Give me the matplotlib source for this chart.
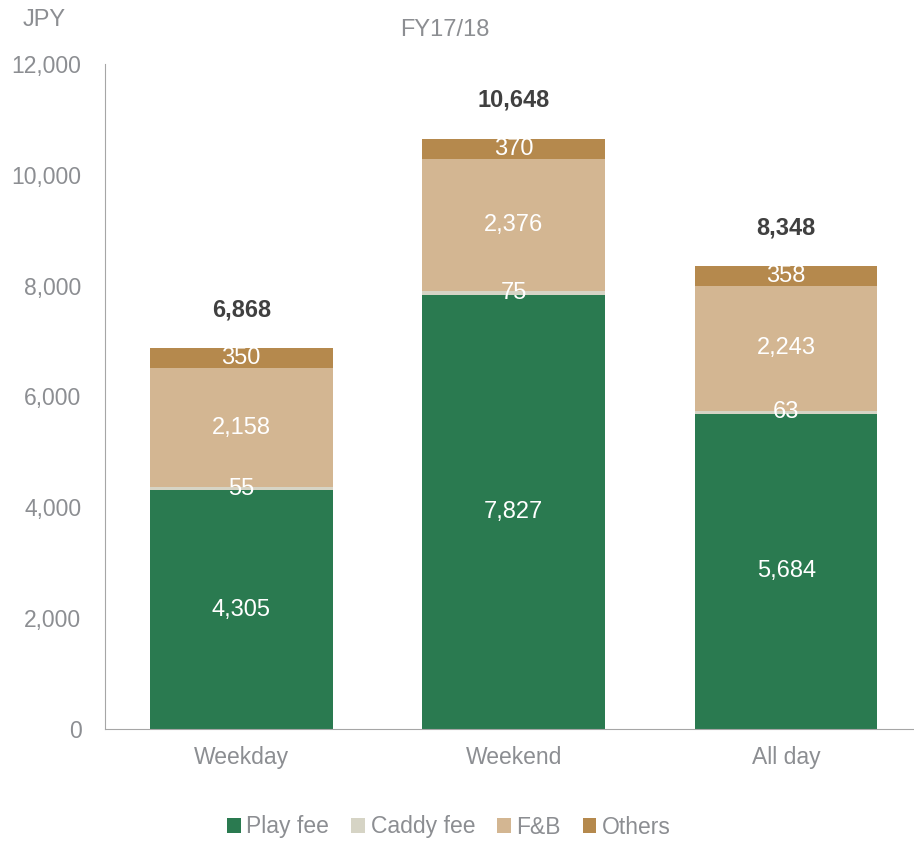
import numpy as np
import matplotlib.pyplot as plt

plt.rcParams['font.family'] = ['Liberation Sans', 'DejaVu Sans']

categories = ["Weekday", "Weekend", "All day"]
play_fee = [4305, 7827, 5684]
caddy_fee = [55, 75, 63]
fnb = [2158, 2376, 2243]
others = [350, 370, 358]

series = [("Play fee", play_fee, "#2a7a50"),
          ("Caddy fee", caddy_fee, "#d6d4c5"),
          ("F&B", fnb, "#d3b692"),
          ("Others", others, "#b5894d")]

grey = "#8c8e92"

fig = plt.figure(figsize=(9.14, 8.41), dpi=100)
ax = fig.add_axes([0.1149, 0.1332, 0.8851, 0.7907])

x = np.arange(len(categories))
bottom = np.zeros(len(categories))
for name, vals, color in series:
    vals = np.array(vals, dtype=float)
    ax.bar(x, vals, 0.67, bottom=bottom, color=color, label=name)
    for xi, b, v in zip(x, bottom, vals):
        ax.text(xi, b + v / 2, f"{int(v):,}", ha="center", va="center",
                color="white", fontsize=17)
    bottom += vals

# totals above each stack
for xi, t in zip(x, bottom):
    ax.text(xi, t + 700, f"{int(t):,}", ha="center", va="center",
            color="#404040", fontsize=17, fontweight="bold")

ax.set_xlim(-0.5, 2.469)
ax.set_ylim(0, 12000)
ax.set_yticks(np.arange(0, 12001, 2000))
ax.set_yticklabels([f"{v:,}" for v in range(0, 12001, 2000)])
ax.set_xticks(x)
ax.set_xticklabels(categories)
ax.tick_params(length=0, labelsize=16.5, colors=grey)
ax.tick_params(axis="y", pad=17)
ax.tick_params(axis="x", pad=12)
for s in ["top", "right"]:
    ax.spines[s].set_visible(False)
for s in ["left", "bottom"]:
    ax.spines[s].set_color("#a6a6a6")

fig.text(44 / 914, 1 - 20 / 841, "JPY", ha="center", va="center",
         color=grey, fontsize=17)
fig.text(445 / 914, 1 - 30 / 841, "FY17/18", ha="center", va="center",
         color=grey, fontsize=17)

fig.legend(loc="center", bbox_to_anchor=(449 / 914, 1 - 827 / 841), ncol=4,
           frameon=False, fontsize=16.5, labelcolor=grey, handlelength=0.6,
           handleheight=0.6, handletextpad=0.25, columnspacing=0.95)

fig.savefig("out.png", dpi=100)
